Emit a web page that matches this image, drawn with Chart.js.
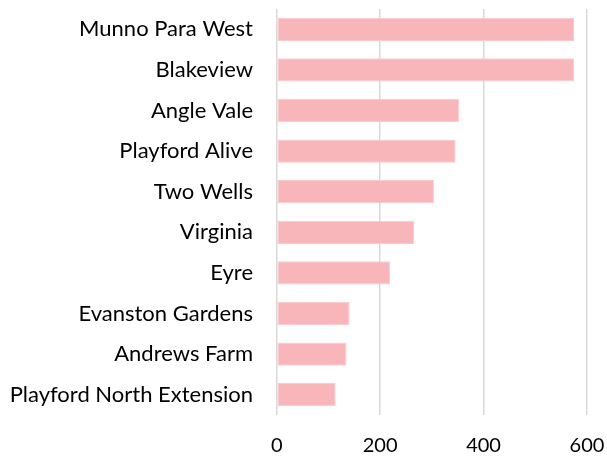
<!DOCTYPE html>
<html>
<head>
<meta charset="utf-8">
<script src="https://cdn.jsdelivr.net/npm/chart.js@4/dist/chart.umd.min.js"></script>
<style>
html,body{margin:0;padding:0;background:#fff;}
#wrap{width:607px;height:458px;position:relative;}
</style>
</head>
<body>
<div id="wrap"><canvas id="c" width="607" height="458"></canvas></div>
<script>
const categories = ["Munno Para West","Blakeview","Angle Vale","Playford Alive","Two Wells","Virginia","Eyre","Evanston Gardens","Andrews Farm","Playford North Extension"];
const values = [575, 575, 353, 346, 304, 266, 219, 141, 135, 114];
const xTicks = [0, 200, 400, 600];

const FONT = "Lato, 'Liberation Sans', sans-serif";

new Chart(document.getElementById('c'), {
  type: 'bar',
  data: {
    labels: categories,
    datasets: [{
      data: values,
      backgroundColor: '#f8b6bb',
      borderColor: '#fbc9cc',
      borderWidth: 1,
      borderSkipped: false,
      barPercentage: 0.573,
      categoryPercentage: 1.0
    }]
  },
  options: {
    indexAxis: 'y',
    responsive: false,
    animation: false,
    layout: { padding: { top: 9, right: 20, left: 0, bottom: 0 } },
    plugins: { legend: { display: false }, tooltip: { enabled: false } },
    scales: {
      x: {
        min: xTicks[0],
        max: xTicks[xTicks.length - 1],
        afterBuildTicks: (s) => { s.ticks = xTicks.map(v => ({ value: v })); },
        ticks: { font: { family: FONT, size: 20 }, color: '#000', padding: 0 },
        grid: { color: '#d9d9d9', lineWidth: 1.5, drawTicks: true, tickLength: 19, tickColor: 'rgba(0,0,0,0)' },
        border: { display: false }
      },
      y: {
        afterFit: (s) => { s.width = 276.7; },
        ticks: { font: { family: FONT, size: 22, lineHeight: 0.8 }, color: '#000', padding: 0 },
        grid: { display: true, drawOnChartArea: false, drawTicks: true, tickLength: 23.7, tickColor: 'rgba(0,0,0,0)' },
        border: { display: false }
      }
    }
  }
});
</script>
</body>
</html>
